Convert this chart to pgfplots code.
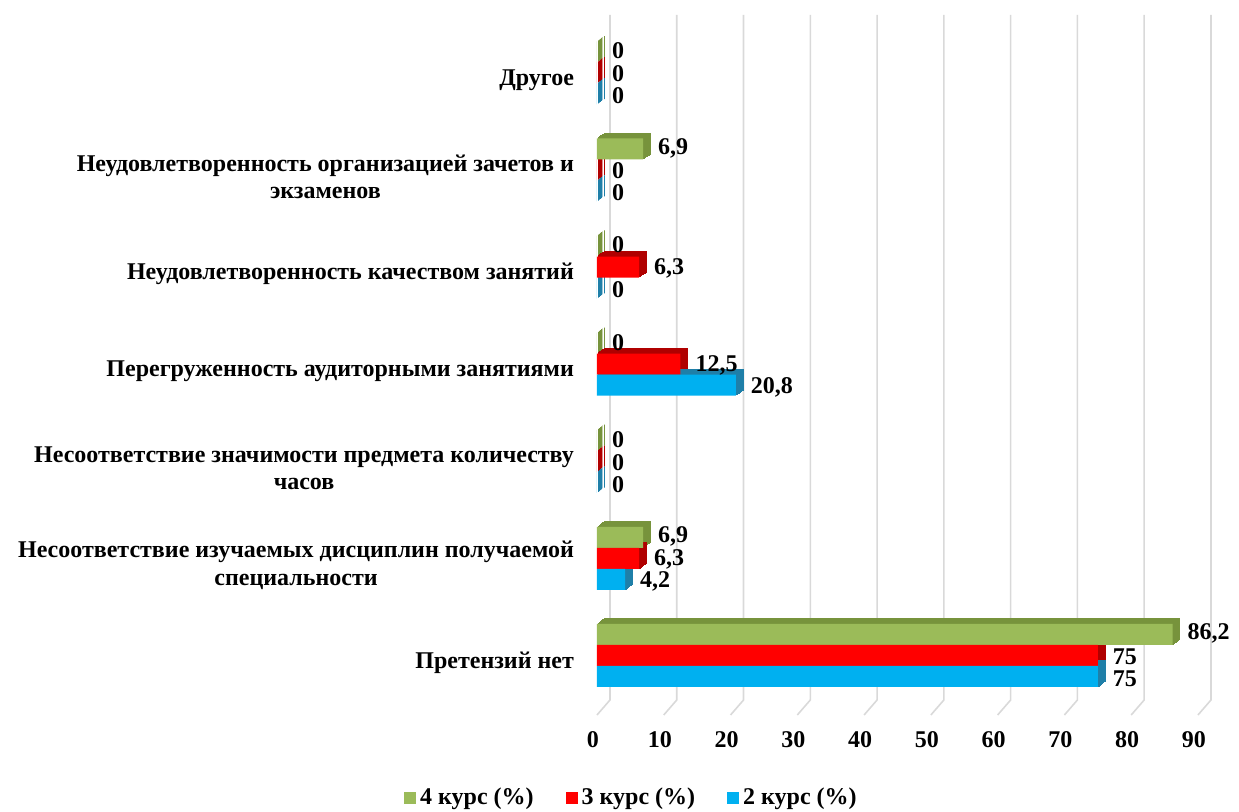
\documentclass[border=0pt]{standalone}
\usepackage{fontspec}
\setmainfont{Liberation Serif}
\usepackage{pgfplots}
\usepackage{pgfplotstable}
\pgfplotsset{compat=1.18}
\definecolor{gfour}{HTML}{9BBB59}
\definecolor{gfourd}{HTML}{77933C}
\definecolor{rthree}{HTML}{FF0000}
\definecolor{rthreed}{HTML}{B00000}
\definecolor{btwo}{HTML}{00B0F0}
\definecolor{btwod}{HTML}{1F7FA8}
\definecolor{gridc}{HTML}{D9D9D9}
\pgfplotstableread{
y c2 c3 c4
0 75 75 86.2
1 4.2 6.3 6.9
2 0 0 0
3 20.8 12.5 0
4 0 6.3 0
5 0 0 6.9
6 0 0 0
}\datatable
\newcommand\mainfont{\bfseries\fontsize{12}{13.8}\selectfont}
\newcommand\extrude[3]{%
\pgfplotsinvokeforeach{1,...,6}{%
\addplot[forget plot, xbar, bar width=10.5pt, bar shift=#3, fill=#2, draw=#2, line width=0.5pt, xshift=##1*0.6pt, yshift=##1*0.43pt] table[x=#1,y=y]{\datatable};}}
\begin{document}
\begin{tikzpicture}
\begin{axis}[
  name=ax,
  scale only axis,
  width=300.5pt, height=350pt,
  xmin=0, xmax=90, ymin=-0.613, ymax=6.596,
  xtick={0,10,...,90},
  ytick={0,...,6},
  yticklabels={Претензий нет,
    {Несоответствие изучаемых дисциплин получаемой\\специальности},
    {Несоответствие значимости предмета количеству\\часов},
    Перегруженность аудиторными занятиями,
    Неудовлетворенность качеством занятий,
    {Неудовлетворенность организацией зачетов и\\экзаменов},
    Другое},
  axis line style={draw=none},
  major tick style={draw=none},
  /pgf/number format/.cd, use comma, fixed, precision=1, assume math mode=true, /pgfplots/.cd,
  xticklabel style={font=\mainfont, yshift=-4.5pt, xshift=-2pt},
  yticklabel style={font=\mainfont, align=center, xshift=-8pt, yshift=-3.5pt},
  clip=false,
  legend columns=3,
  legend style={at={(rel axis cs:0.059,-0.1186)}, anchor=center, draw=none, font=\mainfont,
    /tikz/every even column/.append style={column sep=14pt}},
  legend image code/.code={\fill[#1,draw=none] (0pt,-3pt) rectangle (6pt,3pt);},
  every node near coord/.append style={font=\mainfont, anchor=west, xshift=4pt, text=black},
]
\pgfplotsinvokeforeach{0,10,...,90}{%
  \draw[gridc, line width=0.8pt] (axis cs:#1,-0.613) -- ++(6.5pt,7.5pt) -- ([xshift=6.5pt]axis cs:#1,6.596);
}
\extrude{c4}{gfourd}{10.5pt}
\extrude{c3}{rthreed}{0pt}
\extrude{c2}{btwod}{-10.5pt}
\addplot[xbar, bar width=10.5pt, bar shift=10.5pt, fill=gfour, draw=none, point meta=x, nodes near coords, nodes near coords style={yshift=11pt}] table[x=c4,y=y]{\datatable};
\addplot[xbar, bar width=10.5pt, bar shift=0pt, fill=rthree, draw=none, point meta=x, nodes near coords, nodes near coords style={yshift=-0.5pt}] table[x=c3,y=y]{\datatable};
\addplot[xbar, bar width=10.5pt, bar shift=-10.5pt, fill=btwo, draw=none, point meta=x, nodes near coords, nodes near coords style={yshift=-11.5pt}] table[x=c2,y=y]{\datatable};
\legend{4 курс (\%), 3 курс (\%), 2 курс (\%)}
\end{axis}
\pgfresetboundingbox
\path ([shift={(-298.5pt,-48.5pt)}]ax.south west) rectangle ([shift={(321pt,357.5pt)}]ax.south west);
\end{tikzpicture}
\end{document}
